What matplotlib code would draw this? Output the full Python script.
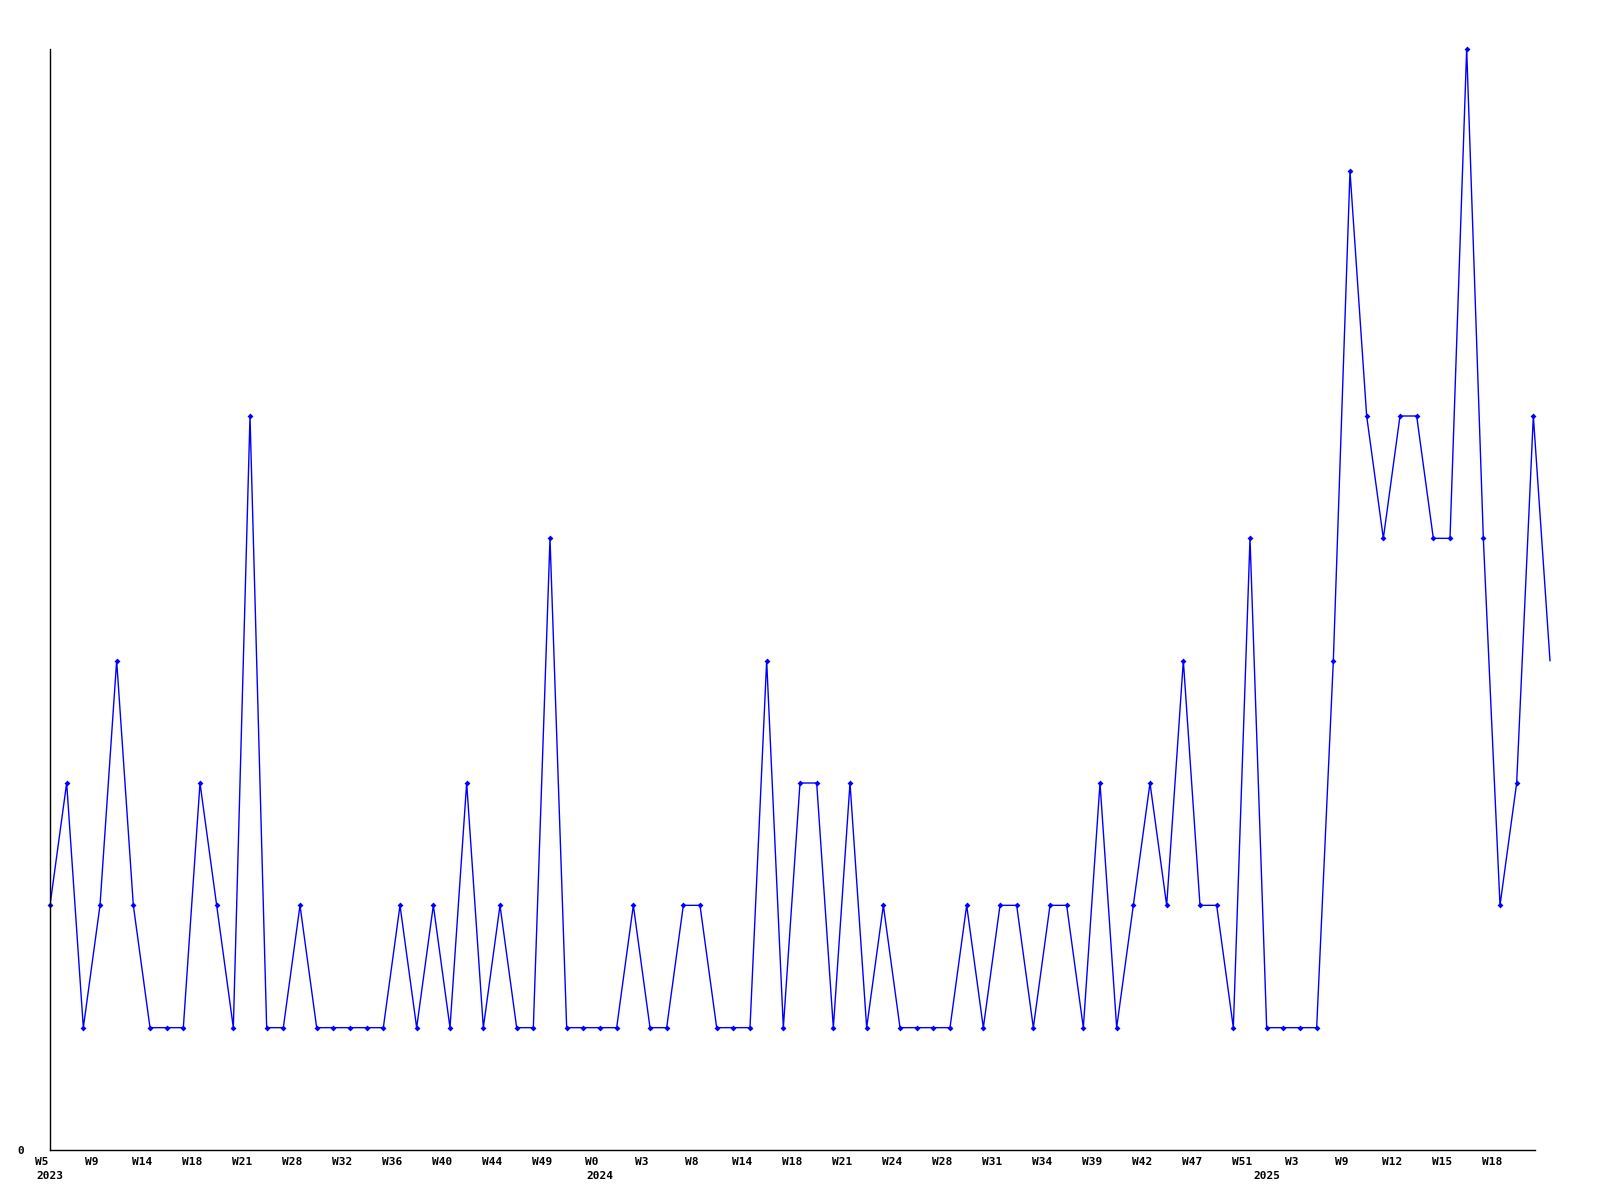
import numpy as np
import matplotlib; matplotlib.use("Agg")
import matplotlib.pyplot as plt
import matplotlib.transforms as mtransforms

# weekly counts, one point per week
counts = [2, 3, 1, 2, 4, 2, 1, 1, 1, 3, 2, 1, 6, 1, 1, 2, 1, 1, 1, 1,
          1, 2, 1, 2, 1, 3, 1, 2, 1, 1, 5, 1, 1, 1, 1, 2, 1, 1, 2, 2,
          1, 1, 1, 4, 1, 3, 3, 1, 3, 1, 2, 1, 1, 1, 1, 2, 1, 2, 2, 1,
          2, 2, 1, 3, 1, 2, 3, 2, 4, 2, 2, 1, 5, 1, 1, 1, 1, 4, 8, 6,
          5, 6, 6, 5, 5, 9, 5, 2, 3, 6, 4]
# every third point carries a label
week_labels = ["W5", "W9", "W14", "W18", "W21", "W28", "W32", "W36", "W40", "W44",
               "W49", "W0", "W3", "W8", "W14", "W18", "W21", "W24", "W28", "W31",
               "W34", "W39", "W42", "W47", "W51", "W3", "W9", "W12", "W15", "W18"]
year_labels = ["2023", "2024", "2025"]
year_pos = [0, 33, 73]

BLUE = "#0000ff"
FONT = dict(family="DejaVu Sans Mono", fontweight="bold", fontsize=8)

x = np.arange(len(counts))
fig = plt.figure(figsize=(16, 12), dpi=100)
ax = fig.add_axes([50 / 1600, 50 / 1200, 1501 / 1600, 1101 / 1200])

ax.plot(x, counts, "-", color=BLUE, lw=1.0)
# last point sits on the edge, no marker drawn there
ax.plot(x[:-1], counts[:-1], "D", color=BLUE, ms=3, mew=0, clip_on=False)

ax.set_xlim(0, 90.06); ax.set_ylim(0, 9)
for s in ("top", "right"):
    ax.spines[s].set_visible(False)
ax.spines["bottom"].set_bounds(0, 89.1)
ax.spines["left"].set_linewidth(1.0); ax.spines["bottom"].set_linewidth(1.0)

ax.set_yticks([0]); ax.set_yticklabels(["0"], **FONT)
ax.set_xticks(x[::3][:len(week_labels)])
ax.set_xticklabels(week_labels, **FONT)
ax.tick_params(axis="both", length=0)
ax.tick_params(axis="x", pad=5)
ax.tick_params(axis="y", pad=18.5)
shift = mtransforms.ScaledTranslation(-8 / 100, 0, fig.dpi_scale_trans)
for lab in ax.get_xticklabels():
    lab.set_transform(lab.get_transform() + shift)

trans = mtransforms.blended_transform_factory(ax.transData, ax.transAxes)
for xp, yl in zip(year_pos, year_labels):
    ax.text(xp, -0.0195, yl, transform=trans, ha="center", va="top", **FONT)

fig.savefig("out.png", dpi=100)
